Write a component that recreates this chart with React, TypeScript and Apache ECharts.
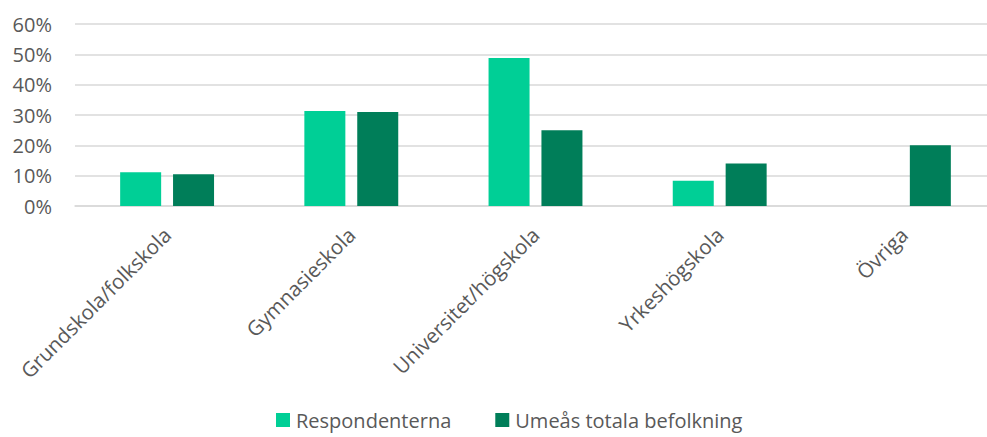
import React, { useEffect, useRef } from "react";
import * as echarts from "echarts";

const categories = [
  "Grundskola/folkskola",
  "Gymnasieskola",
  "Universitet/högskola",
  "Yrkeshögskola",
  "Övriga",
];
const respondenterna = [11.1, 31.3, 48.8, 8.3, 0];
const umeaTotal = [10.5, 31.0, 25.0, 14.0, 20.0];
const yTicks = [0, 10, 20, 30, 40, 50, 60];

const FONT = "'Open Sans', 'Noto Sans', sans-serif";
const TEXT = "#595959";

export default function App() {
  const ref = useRef<HTMLDivElement>(null);
  useEffect(() => {
    if (!ref.current) return;
    const chart = echarts.init(ref.current, null, { renderer: "svg" });
    chart.setOption({
      animation: false,
      backgroundColor: "#ffffff",
      textStyle: { fontFamily: FONT },
      grid: { left: 75, width: 921, top: 24, height: 182, containLabel: false },
      legend: {
        data: ["Respondenterna", "Umeås totala befolkning"],
        left: 276,
        top: 410,
        padding: 0,
        itemWidth: 14,
        itemHeight: 14,
        itemGap: 44,
        icon: "rect",
        textStyle: { fontFamily: FONT, fontSize: 20, color: TEXT, padding: [0, 0, 0, 1] },
      },
      xAxis: {
        type: "category",
        data: categories,
        axisLine: { show: true, lineStyle: { color: "#D9D9D9", width: 1.5 } },
        axisTick: { show: false },
        axisLabel: {
          rotate: 45,
          fontSize: 20.5,
          color: TEXT,
          fontFamily: FONT,
          margin: 25,
          interval: 0,
        },
      },
      yAxis: {
        type: "value",
        min: yTicks[0],
        max: yTicks[yTicks.length - 1],
        interval: 10,
        axisLine: { show: false },
        axisTick: { show: false },
        splitLine: { lineStyle: { color: "#D9D9D9", width: 1.5 } },
        axisLabel: {
          formatter: "{value}%",
          fontSize: 20,
          color: TEXT,
          fontFamily: FONT,
          margin: 23,
        },
      },
      series: [
        {
          name: "Respondenterna",
          type: "bar",
          data: respondenterna,
          barWidth: 41,
          barGap: "29%",
          itemStyle: { color: "#00CF96" },
        },
        {
          name: "Umeås totala befolkning",
          type: "bar",
          data: umeaTotal,
          barWidth: 41,
          barGap: "29%",
          itemStyle: { color: "#007E59" },
        },
      ],
    });
    return () => chart.dispose();
  }, []);
  return (
    <div
      style={{
        position: "absolute",
        left: 0,
        top: 0,
        width: 987,
        height: 437,
        overflow: "hidden",
        background: "#ffffff",
      }}
    >
      <div ref={ref} style={{ width: 996, height: 437 }} />
    </div>
  );
}
